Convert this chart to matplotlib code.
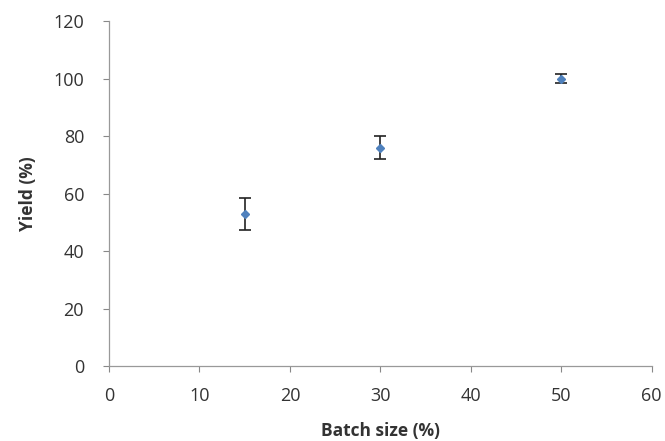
import matplotlib
matplotlib.use('Agg')
import matplotlib.pyplot as plt

# Data
batch_size = [15, 30, 50]
yield_pct = [53, 76, 100]
yield_err = [5.5, 4, 1.5]

x_ticks = [0, 10, 20, 30, 40, 50, 60]
y_ticks = [0, 20, 40, 60, 80, 100, 120]

plt.rcParams['font.family'] = ['Open Sans', 'DejaVu Sans']

fig = plt.figure(figsize=(6.65, 4.41), dpi=100)
ax = fig.add_axes([0.164, 0.170, 0.816, 0.782])

ax.errorbar(batch_size, yield_pct, yerr=yield_err, fmt='D', color='#4F81BD',
            markersize=4.5, ecolor='#222222', elinewidth=1.2, capsize=4, capthick=1.2)

ax.set_xlim(0, 60)
ax.set_ylim(0, 120)
ax.set_xticks(x_ticks)
ax.set_yticks(y_ticks)
ax.tick_params(labelsize=13, colors='#888888', labelcolor='#333333', length=4, width=0.8)
ax.tick_params(axis='x', pad=11)
ax.tick_params(axis='y', pad=14)

for side in ['top', 'right']:
    ax.spines[side].set_visible(False)
for side in ['left', 'bottom']:
    ax.spines[side].set_color('#999999')
    ax.spines[side].set_linewidth(0.9)

ax.set_xlabel('Batch size (%)', fontsize=12.5, fontweight='bold', color='#333333', labelpad=12)
ax.set_ylabel('Yield (%)', fontsize=12.5, fontweight='bold', color='#333333', labelpad=12)

plt.savefig('out.png', dpi=100)
